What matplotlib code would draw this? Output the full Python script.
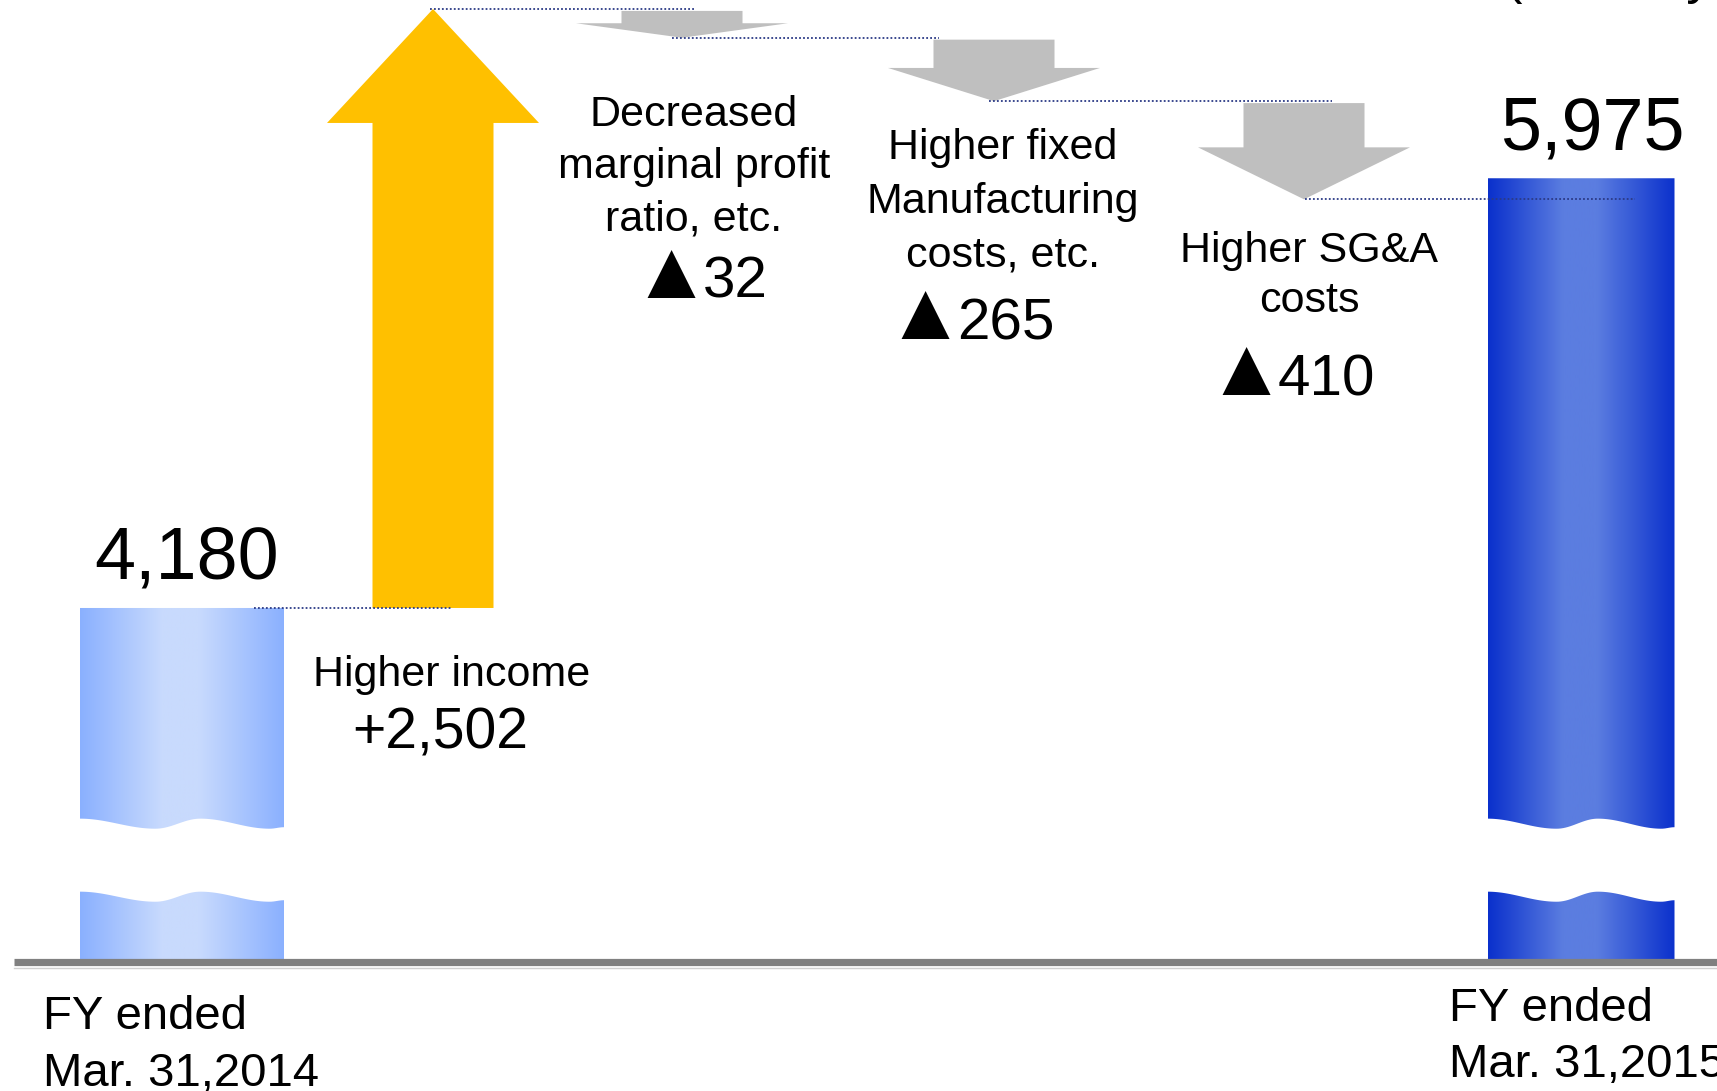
import numpy as np
import matplotlib
matplotlib.use('Agg')
import matplotlib.pyplot as plt
from matplotlib.patches import Polygon
from matplotlib.colors import to_rgb

plt.rcParams['font.family'] = ['Liberation Sans', 'DejaVu Sans']

# ---- data ----
start_label = 'FY ended\nMar. 31,2014'
end_label = 'FY ended\nMar. 31,2015'
start_value = 4180
end_value = 5975
factor_names = ['Higher income',
                'Decreased\nmarginal profit\nratio, etc.',
                'Higher fixed\nManufacturing\ncosts, etc.',
                'Higher SG&A\ncosts']
factor_values = [2502, -32, -265, -410]
unit_label = '(Million yen)'

# ---- layout (pixel canvas 1717 x 1091) ----
W, H = 1717, 1091
px_per_unit = 0.2394
top_margin = 9
x_centers = [182, 433, 682, 994, 1304, 1581]
bar_widths = [204, 187]
shaft_w, head_w = 121, 212
axis_floor = 2700           # broken axis: value drawn at the baseline
break_hi, break_lo, wave_amp = 3300, 2995, 42
min_step = 120              # tiny changes drawn with a minimum arrow length

top_level = start_value + factor_values[0]
v_top = top_level + top_margin / px_per_unit
v_bot = v_top - H / px_per_unit

fig = plt.figure(figsize=(W / 100, H / 100), dpi=100)
ax = fig.add_axes([0, 0, 1, 1])


def wave(t):
    knots = [0, 0.37, 0.59, 0.93, 1.0]
    vals = [0, 1, 0, 1, 0.85]
    out = np.zeros_like(t)
    for i in range(len(knots) - 1):
        m = (t >= knots[i]) & (t <= knots[i + 1])
        u = (t[m] - knots[i]) / (knots[i + 1] - knots[i])
        out[m] = vals[i] + (vals[i + 1] - vals[i]) * (1 - np.cos(np.pi * u)) / 2
    return out


def gradient(edge, center, n=256):
    t = np.linspace(0, 1, n)
    mix = np.interp(t, [0, 0.4, 0.58, 1], [0, 1, 1, 0])
    e, c = np.array(to_rgb(edge)), np.array(to_rgb(center))
    return (e[None, :] * (1 - mix[:, None]) + c[None, :] * mix[:, None])[None, :, :]


def broken_bar(cx, width, value, edge, center):
    x0, x1 = cx - width / 2, cx + width / 2
    xs = np.linspace(x0, x1, 80)
    w = wave((xs - x0) / width)
    upper = [(x0, value), (x1, value)] + list(zip(xs[::-1], (break_hi - wave_amp * w)[::-1]))
    lower = [(x0, axis_floor), (x1, axis_floor)] + list(zip(xs[::-1], (break_lo - wave_amp * w)[::-1]))
    img = gradient(edge, center)
    for verts in (upper, lower):
        patch = Polygon(verts, closed=True, facecolor='none', edgecolor='none')
        ax.add_patch(patch)
        im = ax.imshow(img, extent=[x0, x1, axis_floor, value], aspect='auto',
                       interpolation='bilinear', zorder=2)
        im.set_clip_path(patch)


def up_arrow(cx, bottom, tip, color):
    hl = 476
    verts = [(cx - shaft_w / 2, bottom), (cx + shaft_w / 2, bottom),
             (cx + shaft_w / 2, tip - hl), (cx + head_w / 2, tip - hl), (cx, tip),
             (cx - head_w / 2, tip - hl), (cx - shaft_w / 2, tip - hl)]
    ax.add_patch(Polygon(verts, closed=True, facecolor=color, edgecolor='none', zorder=2))


def down_arrow(cx, top, tip, color):
    hl = 0.54 * (top - tip)
    verts = [(cx - shaft_w / 2, top), (cx + shaft_w / 2, top),
             (cx + shaft_w / 2, tip + hl), (cx + head_w / 2, tip + hl), (cx, tip),
             (cx - head_w / 2, tip + hl), (cx - shaft_w / 2, tip + hl)]
    ax.add_patch(Polygon(verts, closed=True, facecolor=color, edgecolor='none', zorder=2))


# start and end bars
broken_bar(x_centers[0], bar_widths[0], start_value, '#8AB0FF', '#C8DAFD')
broken_bar(x_centers[-1], bar_widths[1], end_value, '#0A30CC', '#5B7DE0')

# factor arrows
levels = [start_value]
level = start_value
for i, v in enumerate(factor_values):
    cx = x_centers[i + 1]
    if v > 0:
        up_arrow(cx, level, level + v, '#FFC000')
        level = level + v
    else:
        step = max(abs(v), min_step)
        down_arrow(cx, level - 8, level - step, '#BFBFBF')
        level = level - step
    levels.append(level)

# dotted connectors
dot_start = [254, 430, 672, 989, 1305]
dot_end = [452, 696, 939, 1332, 1635]
for lv, xs, xe in zip(levels, dot_start, dot_end):
    ax.plot([xs, xe], [lv, lv], color='#2B3A86', lw=1.3,
            linestyle=(0, (1, 1.2)), zorder=4)

# baseline
ax.plot([14, W], [axis_floor, axis_floor], color='#808080', lw=5.2,
        solid_capstyle='butt', zorder=5)
ax.plot([14, W], [axis_floor - 6 / px_per_unit] * 2, color='#D0D0D0', lw=1.0, zorder=5)

ax.set_xlim(0, W)
ax.set_ylim(v_bot, v_top)
ax.axis('off')


def px_text(x, y, s, size, ha='center'):
    fig.text(x / W, 1 - y / H, s, fontsize=size, ha=ha, va='baseline', color='black')


# totals above bars
ax.annotate(f'{start_value:,}', (x_centers[0] + 5, start_value), xytext=(0, 21),
            textcoords='offset points', ha='center', va='baseline', fontsize=53)
ax.annotate(f'{end_value:,}', (x_centers[-1] + 11, end_value), xytext=(0, 21),
            textcoords='offset points', ha='center', va='baseline', fontsize=53)

# factor labels
name_layout = [(452, [686]), (694, [126, 178, 230]), (1003, [159, 213, 266]), (1309, [262, 312])]
value_layout = [(440, 749), (703, 298), (957, 339), (1278, 395)]
for name, v, (nx, nys), (vx, vy) in zip(factor_names, factor_values, name_layout, value_layout):
    for line, y in zip(name.split('\n'), nys):
        px_text(nx, y, line, 31)
    if v > 0:
        px_text(vx, vy, f'+{v:,}', 41)
    else:
        # triangle mark drawn larger than the digits, as in the source slide
        px_text(vx + 9, vy, '\u25b2', 59, ha='right')
        px_text(vx, vy, f'{abs(v):,}', 42, ha='left')

# period labels
for (x, ys), lab in zip([(43, [1029, 1086]), (1449, [1021, 1077])], [start_label, end_label]):
    for line, y in zip(lab.split('\n'), ys):
        px_text(x, y, line, 34, ha='left')

# unit label, mostly above the visible area
px_text(1505, -7, unit_label, 38, ha='left')

fig.savefig('out.png', dpi=100, facecolor='white')
